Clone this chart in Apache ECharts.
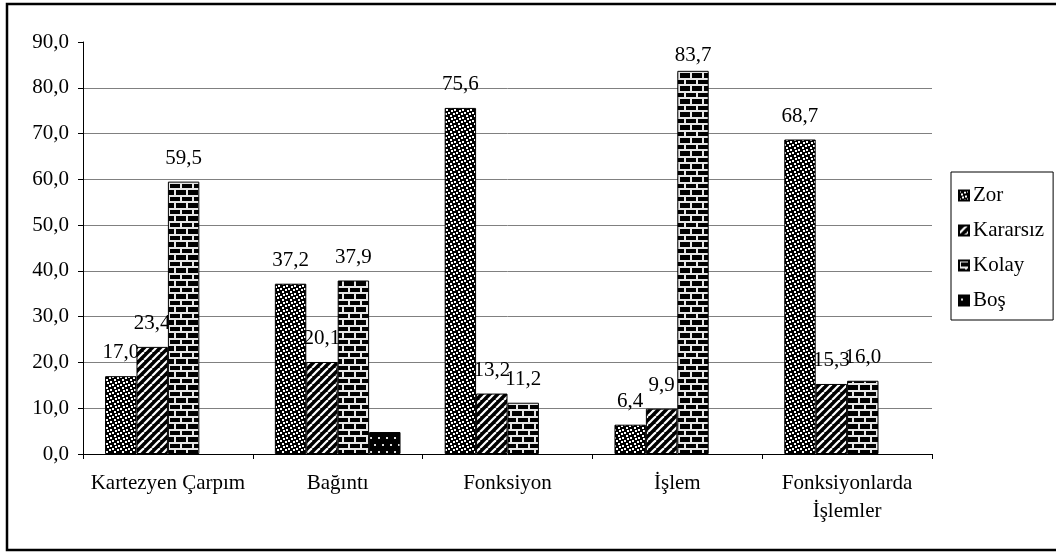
<!DOCTYPE html>
<html>
<head>
<meta charset="utf-8">
<script src="https://cdn.jsdelivr.net/npm/echarts@6/dist/echarts.min.js"></script>
<style>
  html, body { margin: 0; padding: 0; background: #fff; }
  #chart { width: 1056px; height: 552px; }
</style>
</head>
<body>
<div id="chart"></div>
<script>
// Konu başlıkları ve yanıt yüzdeleri
const categories = ['Kartezyen Çarpım', 'Bağıntı', 'Fonksiyon', 'İşlem', 'Fonksiyonlarda\nİşlemler'];
const seriesNames = ['Zor', 'Kararsız', 'Kolay', 'Boş'];
const zor      = [17.0, 37.2, 75.6, 6.4, 68.7];
const kararsiz = [23.4, 20.1, 13.2, 9.9, 15.3];
const kolay    = [59.5, 37.9, 11.2, 83.7, 16.0];
const bos      = [null, 4.8, null, null, null];
const yTicks   = [0, 10, 20, 30, 40, 50, 60, 70, 80, 90];

const FONT = "'Liberation Serif', 'Times New Roman', serif";
const fmt = v => Number(v).toFixed(1).replace('.', ',');

// Small repeating fills for the bars (black ground, white motif)
function tile(w, h, draw) {
  const c = document.createElement('canvas');
  c.width = w; c.height = h;
  const g = c.getContext('2d');
  g.fillStyle = '#000';
  g.fillRect(0, 0, w, h);
  g.fillStyle = '#fff';
  g.strokeStyle = '#fff';
  draw(g, w, h);
  return c;
}

const confetti = tile(8, 8, g => {
  [[0, 0], [5, 1], [2, 3], [6, 5], [3, 6]].forEach(([x, y]) => g.fillRect(x, y, 2, 2));
});

const stripes = tile(8, 8, g => {
  g.lineWidth = 2.2;
  [-8, 0, 8].forEach(k => {
    g.beginPath();
    g.moveTo(k, 8);
    g.lineTo(k + 8, 0);
    g.stroke();
  });
});

const bricks = tile(12, 13, g => {
  g.fillStyle = '#e6e6e6';
  g.fillRect(0, 0, 12, 2);
  g.fillRect(0, 6, 12, 2);
  g.fillRect(0, 2, 2, 4);
  g.fillRect(6, 8, 2, 5);
});

const dots = tile(8, 14, g => {
  g.fillStyle = '#ddd';
  g.fillRect(2, 3, 2, 2);
  g.fillRect(6, 10, 2, 2);
});

const fills = [confetti, stripes, bricks, dots];
const values = [zor, kararsiz, kolay, bos];

// Each series sits on its own layer so the next series' bars
// overlap the previous series' value labels.
const series = seriesNames.map((name, i) => ({
  name,
  type: 'bar',
  zlevel: 1 + i,
  barGap: '0%',
  barCategoryGap: '26%',
  itemStyle: {
    color: { image: fills[i], repeat: 'repeat' },
    borderColor: '#000',
    borderWidth: 1
  },
  data: values[i].map(v => (v == null ? null : {
    value: v,
    // keep labels of the tallest bars inside the plot area
    label: { distance: v > 82 ? 5 : 13 }
  })),
  label: {
    show: i < 3,
    position: 'top',
    color: '#000',
    fontFamily: FONT,
    fontSize: 21,
    formatter: p => fmt(p.value)
  }
}));

const chart = echarts.init(document.getElementById('chart'), null, { renderer: 'canvas' });
chart.setOption({
  animation: false,
  backgroundColor: '#fff',
  textStyle: { fontFamily: FONT },
  grid: { left: 83, right: 124, top: 42, bottom: 98, containLabel: false },
  graphic: [{
    type: 'rect',
    shape: { x: 7, y: 4, width: 1070, height: 546 },
    style: { fill: 'none', stroke: '#000', lineWidth: 2.5 },
    silent: true,
    z: 100
  }],
  legend: {
    orient: 'vertical',
    left: 951,
    top: 172,
    data: seriesNames,
    itemWidth: 10,
    itemHeight: 10,
    itemGap: 14,
    padding: [13, 9, 9, 7],
    borderColor: '#000',
    borderWidth: 1,
    icon: 'rect',
    textStyle: { fontFamily: FONT, fontSize: 21, color: '#000', padding: [0, 0, 0, -1] }
  },
  xAxis: {
    type: 'category',
    data: categories,
    axisLine: { lineStyle: { color: '#000', width: 1 } },
    axisTick: { show: true, length: 5, lineStyle: { color: '#000' } },
    axisLabel: {
      color: '#000',
      fontFamily: FONT,
      fontSize: 21,
      lineHeight: 28,
      margin: 15,
      interval: 0
    }
  },
  yAxis: {
    type: 'value',
    min: yTicks[0],
    max: yTicks[yTicks.length - 1],
    interval: yTicks[1] - yTicks[0],
    axisLine: { show: true, lineStyle: { color: '#000', width: 1 } },
    axisTick: { show: true, length: 5, lineStyle: { color: '#000' } },
    axisLabel: {
      color: '#000',
      fontFamily: FONT,
      fontSize: 21,
      margin: 14,
      formatter: v => fmt(v)
    },
    splitLine: {
      show: true,
      showMinLine: false,
      showMaxLine: false,
      lineStyle: { color: '#808080', width: 1 }
    }
  },
  series
});
</script>
</body>
</html>
